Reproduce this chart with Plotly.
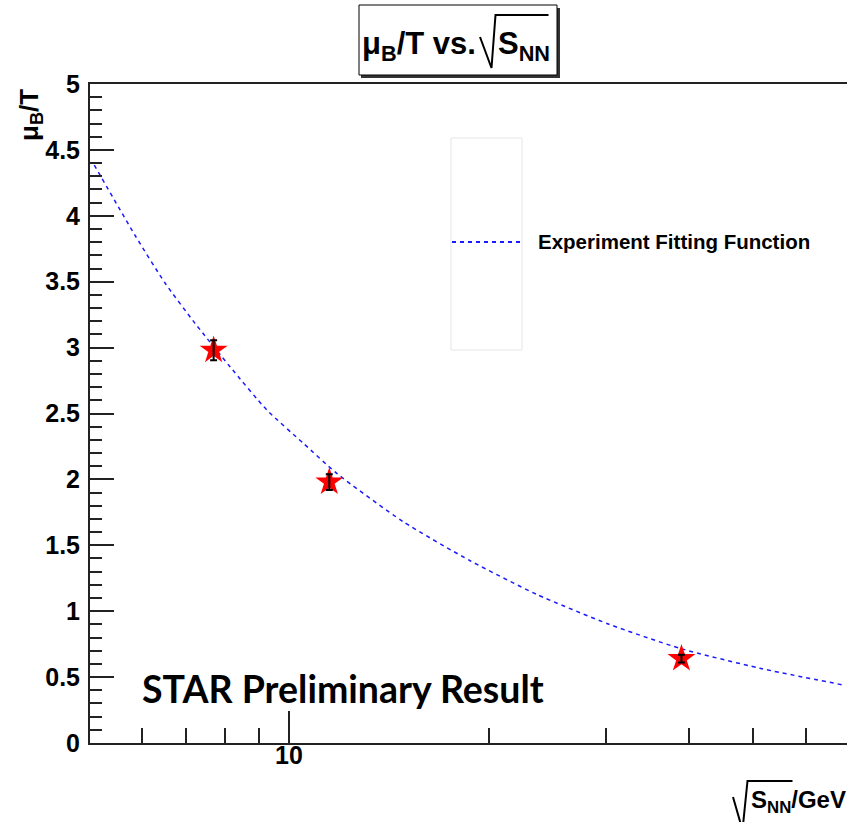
import plotly.graph_objects as go

# ---------------- data ----------------
energies = [7.7, 11.5, 39.0]          # sqrt(s_NN) in GeV
ratio = [2.98, 1.98, 0.64]            # mu_B / T
ratio_err = [0.076, 0.06, 0.03]

fit_x = [5.09, 5.86, 6.51, 7.22, 8.15, 9.26, 10.51, 11.8, 14.86, 18.74, 23.6, 30.26, 38.8, 51.2, 68.4]
fit_y = [4.385, 3.854, 3.488, 3.184, 2.855, 2.527, 2.274, 2.046, 1.679, 1.383, 1.128, 0.903, 0.718, 0.567, 0.44]

x_major = [10]
x_major_text = ["10"]
x_minor = [6, 7, 8, 9, 20, 30, 40, 50, 60]

# ---------------- layout helpers (pixel -> paper) ----------------
W, H = 847, 822
L, R, T, B = 90, 847, 84, 743


def px(x):
    return (x - L) / (R - L)


def py(y):
    return (B - y) / (B - T)


FONT = "Liberation Sans, Arial, Helvetica, sans-serif"

fig = go.Figure()

# fit curve
fig.add_trace(go.Scatter(
    x=fit_x, y=fit_y, mode="lines",
    line=dict(color="#1a1aff", width=1.5, dash="4px,4px", shape="spline", smoothing=0.6),
    hoverinfo="skip", showlegend=False))

# stars
fig.add_trace(go.Scatter(
    x=energies, y=ratio, mode="markers",
    marker=dict(symbol="star", size=21, color="#ff0000", line=dict(width=0)),
    showlegend=False))

# error bars drawn above the stars
fig.add_trace(go.Scatter(
    x=energies, y=ratio, mode="markers",
    marker=dict(size=1, color="rgba(0,0,0,0)"),
    error_y=dict(type="data", array=ratio_err, color="black", thickness=2, width=3.5),
    showlegend=False, hoverinfo="skip"))

tick_font = dict(family=FONT, size=25, color="black", weight="bold")

fig.update_xaxes(
    type="log", range=[0.70030, 1.8404],
    showline=True, linecolor="#222", linewidth=2, mirror=True,
    ticks="inside", ticklen=32, tickwidth=2, tickcolor="#222",
    tickmode="array", tickvals=x_major, ticktext=x_major_text,
    minor=dict(tickmode="array", tickvals=x_minor, ticks="inside", ticklen=15,
               tickwidth=2, tickcolor="#222", showgrid=False),
    showgrid=False, zeroline=False, showticklabels=False)

fig.update_yaxes(
    range=[0, 5], tick0=0, dtick=0.5,
    showline=True, linecolor="#222", linewidth=2, mirror=False,
    ticks="inside", ticklen=24, tickwidth=2, tickcolor="#222",
    minor=dict(dtick=0.1, ticks="inside", ticklen=12, tickwidth=2, tickcolor="#222",
               showgrid=False),
    showgrid=False, zeroline=False, tickfont=tick_font, ticklabelstandoff=3)

shapes = []
# title box shadow + box
shapes.append(dict(type="rect", xref="paper", yref="paper",
                   x0=px(361), x1=px(560), y0=py(78), y1=py(8),
                   fillcolor="#333", line=dict(width=0), layer="above"))
shapes.append(dict(type="rect", xref="paper", yref="paper",
                   x0=px(359), x1=px(557), y0=py(75), y1=py(5),
                   fillcolor="white", line=dict(color="black", width=1), layer="above"))


def path(points):
    return "M " + " L ".join(f"{px(a):.5f},{py(b):.5f}" for a, b in points)


# radical in title
shapes.append(dict(type="path", xref="paper", yref="paper",
                   path=path([(480, 37), (491.5, 68), (495.5, 15), (548.5, 15)]),
                   line=dict(color="black", width=2), layer="above"))
# radical in x title
shapes.append(dict(type="path", xref="paper", yref="paper",
                   path=path([(733, 797), (742.5, 830), (747.5, 781), (792.5, 781)]),
                   line=dict(color="black", width=2), layer="above"))
# legend box + sample line
shapes.append(dict(type="rect", xref="paper", yref="paper",
                   x0=px(451), x1=px(522), y0=py(350), y1=py(138),
                   line=dict(color="#e6e6e6", width=1)))
shapes.append(dict(type="line", xref="paper", yref="paper",
                   x0=px(452), x1=px(522), y0=py(242), y1=py(242),
                   line=dict(color="#1a1aff", width=2, dash="4px,4px")))

ann = []
tfont = dict(family=FONT, size=31, color="black", weight="bold")
ann.append(dict(text="μ<sub>B</sub>/T vs.", xref="paper", yref="paper",
                x=px(478), y=py(46), xanchor="right", yanchor="middle",
                showarrow=False, font=tfont))
ann.append(dict(text="S<sub>NN</sub>", xref="paper", yref="paper",
                x=px(496), y=py(46), xanchor="left", yanchor="middle",
                showarrow=False, font=tfont))
# x tick label "10"
ann.append(dict(text=x_major_text[0], xref="x", yref="paper",
                x=1, y=py(755), xanchor="center", yanchor="middle",
                showarrow=False, font=tick_font))
ann.append(dict(text="S<sub>NN</sub>/GeV", xref="paper", yref="paper",
                x=px(848), y=py(802), xanchor="right", yanchor="middle",
                showarrow=False, font=dict(family=FONT, size=24, color="black", weight="bold")))
ann.append(dict(text="μ<sub>B</sub>/T", xref="paper", yref="paper",
                x=px(31), y=py(115), xanchor="center", yanchor="middle", textangle=-90,
                showarrow=False, font=dict(family=FONT, size=26, color="black", weight="bold")))
ann.append(dict(text="Experiment Fitting Function", xref="paper", yref="paper",
                x=px(536), y=py(242), xanchor="left", yanchor="middle",
                showarrow=False, font=dict(family=FONT, size=20.5, color="black", weight="bold")))
ann.append(dict(text="STAR Preliminary Result", xref="paper", yref="paper",
                x=px(140), y=py(688), xanchor="left", yanchor="middle",
                showarrow=False, font=dict(family="Lato, Calibri, sans-serif", size=37.5,
                                           color="black", weight="bold")))

fig.update_layout(
    width=W, height=H,
    margin=dict(l=L, r=W - R, t=T, b=H - B),
    paper_bgcolor="white", plot_bgcolor="white",
    showlegend=False, shapes=shapes, annotations=ann)

fig.write_html("out.html")
